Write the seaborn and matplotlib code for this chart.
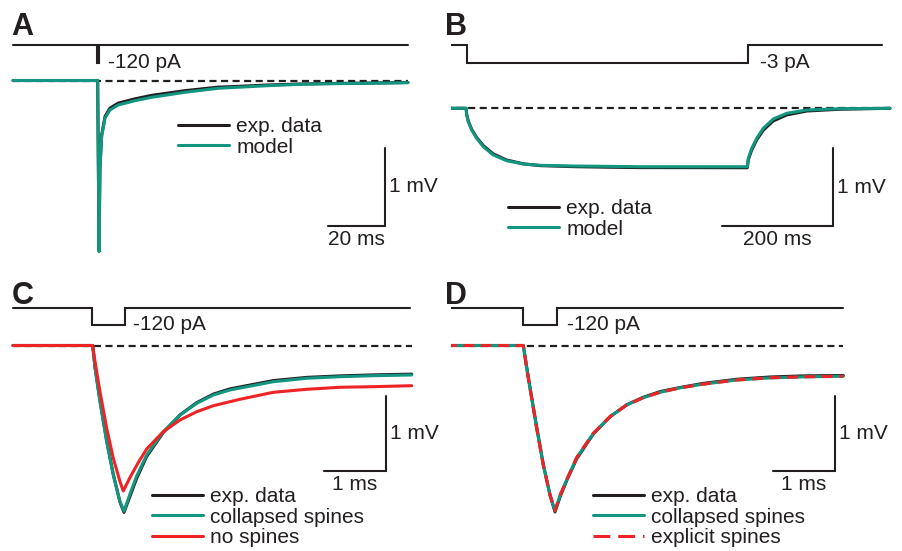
import matplotlib
matplotlib.use("Agg")
import pandas as pd
import matplotlib.pyplot as plt
import seaborn as sns

W, H = 902, 551
BLACK = "#231f20"
GREEN = "#12967f"
RED = "#ee2326"

# ── Panel A: brief -120 pA pulse (time in ms, voltage in mV from rest) ───────
A_STIM_T = [0, 29.5, 29.5, 30.0, 30.0, 138.6]
A_STIM_I = [0, 0, -120, -120, 0, 0]
A_T = [0, 29.7, 30.2, 30.5, 31.1, 32.3, 34.0, 36.9, 42.8, 48.7, 60.4, 71.9,
       77.2, 89.1, 100.7, 112.3, 124.2, 138.6]
A_EXP = [0, 0, -2.17, -1.12, -0.70, -0.46, -0.355, -0.29, -0.235, -0.19,
         -0.13, -0.085, -0.078, -0.058, -0.045, -0.038, -0.033, -0.026]
A_MODEL = [0, 0, -2.195, -1.147, -0.72, -0.48, -0.378, -0.314, -0.259, -0.215,
           -0.151, -0.10, -0.09, -0.067, -0.049, -0.041, -0.036, -0.028]

# ── Panel B: long -3 pA step ─────────────────────────────────────────────────
B_STIM_T = [0, 39.6, 39.6, 546, 546, 787]
B_STIM_I = [0, 0, -3, -3, 0, 0]
B_T = [0, 38, 39.1, 42, 48.1, 57.1, 69, 87, 111.2, 141.1, 171.2, 231.2, 291.4,
       351.4, 544.7, 546.5, 552.6, 561.6, 573.5, 591.5, 615.7, 651.7, 711.7, 801.8]
B_EXP = [0, 0, -0.08, -0.165, -0.27, -0.375, -0.478, -0.585, -0.663, -0.712,
         -0.735, -0.748, -0.755, -0.76, -0.762, -0.66, -0.535, -0.405, -0.28,
         -0.162, -0.085, -0.035, -0.012, 0]
B_MODEL = [0, 0, -0.086, -0.172, -0.278, -0.385, -0.492, -0.599, -0.672, -0.714,
           -0.731, -0.74, -0.744, -0.749, -0.749, -0.641, -0.513, -0.385, -0.256,
           -0.137, -0.064, -0.022, -0.005, 0]

# ── Panel C: 0.5 ms -120 pA pulse, collapsed vs no spines ────────────────────
C_STIM_T = [0, 1.274, 1.274, 1.806, 1.806, 6.40]
C_STIM_I = [0, 0, -120, -120, 0, 0]
C_T = [0, 1.285, 1.323, 1.403, 1.511, 1.618, 1.726, 1.79, 1.887, 1.995, 2.156,
       2.424, 2.694, 2.963, 3.231, 3.5, 4.198, 4.737, 5.274, 5.811, 6.431]
C_EXP = [0, 0, -0.29, -0.735, -1.27, -1.72, -2.09, -2.225, -2.01, -1.77, -1.48,
         -1.16, -0.925, -0.762, -0.648, -0.578, -0.468, -0.425, -0.405, -0.392, -0.382]
C_COLLAPSED = [0, 0, -0.304, -0.749, -1.283, -1.727, -2.083, -2.207, -1.98,
               -1.74, -1.46, -1.149, -0.927, -0.771, -0.66, -0.593, -0.483,
               -0.437, -0.416, -0.403, -0.393]
C_T_NOSP = [0, 1.285, 1.323, 1.403, 1.511, 1.618, 1.726, 1.779, 1.887, 2.021,
            2.156, 2.424, 2.694, 2.963, 3.231, 3.661, 4.198, 4.737, 5.274, 5.811, 6.431]
C_NOSPINES = [0, 0, -0.216, -0.616, -1.104, -1.504, -1.816, -1.94, -1.76,
              -1.56, -1.38, -1.149, -0.993, -0.883, -0.803, -0.717, -0.624,
              -0.584, -0.557, -0.549, -0.536]

# ── Panel D: collapsed vs explicit spines ────────────────────────────────────
D_STIM_T = [0, 1.242, 1.242, 1.79, 1.79, 6.40]
D_STIM_I = [0, 0, -120, -120, 0, 0]
D_T = [0, 1.247, 1.302, 1.355, 1.463, 1.569, 1.677, 1.758, 1.839, 1.947, 2.108,
       2.376, 2.645, 2.915, 3.181, 3.452, 3.774, 4.15, 4.689, 5.226, 5.763, 6.408]
D_EXP = [0, 0, -0.29, -0.56, -1.09, -1.585, -1.99, -2.22, -2.02, -1.80, -1.51,
         -1.18, -0.95, -0.79, -0.69, -0.615, -0.56, -0.505, -0.45, -0.42, -0.405, -0.40]
D_COLLAPSED = [0, 0, -0.304, -0.571, -1.104, -1.593, -1.993, -2.207, -2.0,
               -1.79, -1.495, -1.171, -0.949, -0.793, -0.696, -0.624, -0.565,
               -0.515, -0.46, -0.432, -0.418, -0.41]
D_EXPLICIT = [0, 0, -0.304, -0.571, -1.104, -1.593, -1.993, -2.2, -2.0,
              -1.79, -1.495, -1.171, -0.949, -0.793, -0.696, -0.624, -0.565,
              -0.515, -0.46, -0.43, -0.418, -0.41]

sns.set_style("white")
plt.rcParams["font.family"] = ["Liberation Sans", "DejaVu Sans"]
plt.rcParams["text.color"] = BLACK
FS = 15

fig = plt.figure(figsize=(W / 100, H / 100), dpi=100)


def make_axes(box, x0, sx, y0, sy):
    """Axes over a pixel box; data (x, y) maps to pixel (x0 + sx*x, y0 - sy*y)."""
    left, top, right, bottom = box
    ax = fig.add_axes([left / W, 1 - bottom / H, (right - left) / W, (bottom - top) / H])
    ax.set_xlim((left - x0) / sx, (right - x0) / sx)
    ax.set_ylim((y0 - bottom) / sy, (y0 - top) / sy)
    ax.set_axis_off()
    ax.patch.set_visible(False)
    return ax


def panel(box, letter, stim, stim_map, stim_label, stim_dx, trace_map, traces,
          colors, dashes, scale, scale_pos, scale_labels, legend_xy):
    x0, sx, y0, sy = trace_map
    sax = make_axes(box, x0, sx, stim_map[0], stim_map[1])
    st, si = stim
    sax.plot(st, si, color=BLACK, lw=1.5, solid_joinstyle="miter")
    sax.annotate(stim_label, xy=(st[-2], si[-3]), xytext=(stim_dx, 0),
                 textcoords="offset points", ha="left", va="center", fontsize=FS)

    ax = make_axes(box, x0, sx, y0, sy)
    t_all = [t for tt, _ in traces.values() for t in tt]
    ax.hlines(0, min(t_all), max(t_all), colors=BLACK, lw=1.6,
              linestyles=(0, (3.2, 2.0)), zorder=1)

    df = pd.concat(
        [pd.DataFrame({"t": tt, "v": vv, "trace": name}) for name, (tt, vv) in traces.items()],
        ignore_index=True,
    )
    sns.lineplot(data=df, x="t", y="v", hue="trace", style="trace",
                 palette=colors, dashes=dashes, estimator=None, sort=False,
                 linewidth=2.2, ax=ax, zorder=3)

    old = ax.get_legend()
    handles = old.legend_handles
    labels = [t.get_text() for t in old.get_texts()]
    old.remove()
    leg = ax.legend(handles, labels, loc="upper left",
                    bbox_to_anchor=(legend_xy[0] / W, 1 - legend_xy[1] / H),
                    bbox_transform=fig.transFigure, frameon=False, fontsize=FS,
                    handlelength=2.45, handletextpad=0.35, labelspacing=0.08,
                    borderpad=0, borderaxespad=0)
    for h in leg.get_lines():
        h.set_linewidth(2.2)

    # scale bar
    dt, dv = scale
    cx, cy = scale_pos
    ax.plot([cx - dt, cx, cx], [cy, cy, cy + dv], color=BLACK, lw=1.5,
            solid_joinstyle="miter")
    ax.annotate(scale_labels[1], xy=(cx, cy + dv / 2), xytext=(3, 0),
                textcoords="offset points", ha="left", va="center", fontsize=FS)
    ax.annotate(scale_labels[0], xy=(cx - dt / 2, cy), xytext=(0, -3),
                textcoords="offset points", ha="center", va="top", fontsize=FS)

    fig.text(letter[1] / W, 1 - letter[2] / H, letter[0], fontsize=22,
             fontweight="bold", ha="left", va="baseline")
    return ax


panel((0, 0, 451, 275), ("A", 11, 35), (A_STIM_T, A_STIM_I), (45, 0.15), "-120 pA", 6.5,
      (13, 2.85, 80.5, 78),
      {"exp. data": (A_T, A_EXP), "model": (A_T, A_MODEL)},
      {"exp. data": BLACK, "model": GREEN}, {"exp. data": "", "model": ""},
      (20, 1), (130.5, -1.865), ("20 ms", "1 mV"), (178, 117))

panel((451, 0, 902, 275), ("B", 445, 35), (B_STIM_T, B_STIM_I), (45, 6.0), "-3 pA", 8.5,
      (445, 0.555, 108.3, 78),
      {"exp. data": (B_T, B_EXP), "model": (B_T, B_MODEL)},
      {"exp. data": BLACK, "model": GREEN}, {"exp. data": "", "model": ""},
      (200, 1), (699, -1.509), ("200 ms", "1 mV"), (508, 199))

panel((0, 275, 451, 551), ("C", 12, 304), (C_STIM_T, C_STIM_I), (308, 17 / 120), "-120 pA", 5.5,
      (13, 62, 345.5, 75),
      {"exp. data": (C_T, C_EXP), "collapsed spines": (C_T, C_COLLAPSED),
       "no spines": (C_T_NOSP, C_NOSPINES)},
      {"exp. data": BLACK, "collapsed spines": GREEN, "no spines": RED},
      {"exp. data": "", "collapsed spines": "", "no spines": ""},
      (1, 1), (6.016, -1.673), ("1 ms", "1 mV"), (152, 487))

axD = panel((451, 275, 902, 551), ("D", 445, 304), (D_STIM_T, D_STIM_I), (308, 17 / 120), "-120 pA", 7,
            (446, 62, 345.5, 75),
            {"exp. data": (D_T, D_EXP), "collapsed spines": (D_T, D_COLLAPSED),
             "explicit spines": (D_T, D_EXPLICIT)},
            {"exp. data": BLACK, "collapsed spines": GREEN, "explicit spines": RED},
            {"exp. data": "", "collapsed spines": "", "explicit spines": (3.5, 2.2)},
            (1, 1), (6.274, -1.673), ("1 ms", "1 mV"), (593, 487))
axD.get_legend().get_lines()[2].set_dashes((5.5, 2.6))

fig.savefig("out.png", dpi=100)
